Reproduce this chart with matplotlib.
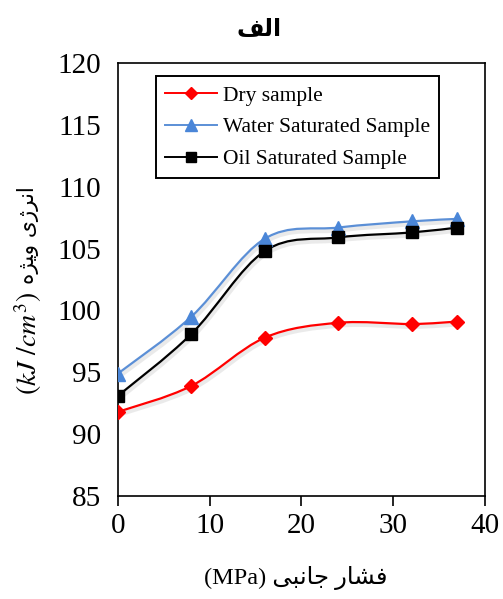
import numpy as np
import matplotlib
matplotlib.use("Agg")
import matplotlib.pyplot as plt
from matplotlib.path import Path
from matplotlib.patches import PathPatch
import matplotlib.patheffects as pe
from matplotlib.lines import Line2D

# data
pressure = [0, 8, 16, 24, 32, 37]
dry = [91.8, 93.9, 97.8, 99.0, 98.9, 99.1]
water = [94.9, 99.5, 105.8, 106.7, 107.2, 107.4]
oil = [93.1, 98.1, 104.8, 105.9, 106.3, 106.7]

labels = ["Dry sample", "Water Saturated Sample", "Oil Saturated Sample"]
colors = ["#FF0000", "#5B8FD6", "#000000"]
mcolors = ["#FF0000", "#4A86D8", "#000000"]
markers = ["D", "^", "s"]
msizes = [7.5, 10, 9]

# persian text, pre-shaped (presentation forms) and in visual order
title_txt = "\uFED2\uFEDF\u0627"                       # الف
xlab_txt = "(MPa) \uFEF0\uFE92\uFEE7\uFE8E\uFE9F \uFEAD\uFE8E\uFEB8\uFED3"   # فشار جانبی (MPa)
ylab_fa = "\u0647\uFB8B\uFEF4\u0648 \u06CC\u0698\uFEAE\uFEE7\u0627"          # انرژی ویژه
ylab_unit = "$(kJ\\ /cm^3)$"

plt.rcParams['mathtext.fontset'] = 'stix'
serif = ['Liberation Serif', 'DejaVu Sans']


def smooth_path(x, y):
    # excel-like smoothed line as cubic bezier segments
    pts = np.column_stack([x, y]).astype(float)
    n = len(pts)
    verts = [pts[0]]
    codes = [Path.MOVETO]
    for i in range(n - 1):
        p0 = pts[i - 1] if i > 0 else pts[i]
        p1 = pts[i]
        p2 = pts[i + 1]
        p3 = pts[i + 2] if i + 2 < n else pts[i + 1]
        c1 = p1 + (p2 - p0) / 6.0
        c2 = p2 - (p3 - p1) / 6.0
        verts += [c1, c2, p2]
        codes += [Path.CURVE4] * 3
    return Path(verts, codes)


fig = plt.figure(figsize=(5.03, 5.99), dpi=100)
ax = fig.add_axes([0.2346, 0.172, 0.7296, 0.7228])

series = [dry, water, oil]
handles = []
for vals, lab, c, mc, m, ms in zip(series, labels, colors, mcolors, markers, msizes):
    patch = PathPatch(smooth_path(pressure, vals), facecolor='none', edgecolor=c, lw=1.6,
                      zorder=2,
                      path_effects=[pe.SimpleLineShadow(offset=(1.0, -2.0), shadow_color='#999999',
                                                        alpha=0.2, linewidth=3),
                                    pe.Normal()])
    ax.add_patch(patch)
    ax.plot(pressure, vals, linestyle='none', marker=m, markersize=ms, color=mc, zorder=3)
    handles.append(Line2D([], [], color=c, lw=1.4, marker=m, markersize=ms * 0.85,
                          markerfacecolor=mc, markeredgecolor=mc))

ax.set_xlim(0, 40)
ax.set_ylim(85, 120)
ax.set_xticks(range(0, 41, 10))
ax.set_yticks(range(85, 121, 5))
ax.tick_params(axis='x', direction='out', length=7, width=1.2, pad=5)
ax.tick_params(axis='y', length=0, pad=12)
for t in ax.get_xticklabels() + ax.get_yticklabels():
    t.set_fontfamily(serif)
    t.set_fontsize(21)
for s in ax.spines.values():
    s.set_linewidth(1.2)

leg = ax.legend(handles, labels, loc='upper left', bbox_to_anchor=(0.1035, 0.969),
                prop={'family': serif, 'size': 15.5}, frameon=True, fancybox=False,
                framealpha=1, edgecolor='black', handlelength=2.4, labelspacing=0.55,
                borderpad=0.42, handletextpad=0.3, borderaxespad=0)
leg.get_frame().set_linewidth(1.4)

ax.set_xlabel(xlab_txt, family=serif, fontsize=17.5)
ax.xaxis.label.set_va('center')
ax.xaxis.set_label_coords(0.485, -0.19)

# y label in two parts: unit (math) and persian words
fig.text(0.056, 0.427, ylab_unit, rotation=90, ha='center', va='center', fontsize=20)
fig.text(0.056, 0.607, ylab_fa, rotation=90, ha='center', va='center',
         family=['DejaVu Sans'], fontsize=15.5)

fig.text(0.516, 0.952, title_txt, ha='center', va='center', family=['DejaVu Sans'],
         fontsize=17, fontweight='bold')

fig.savefig("out.png", dpi=100)
